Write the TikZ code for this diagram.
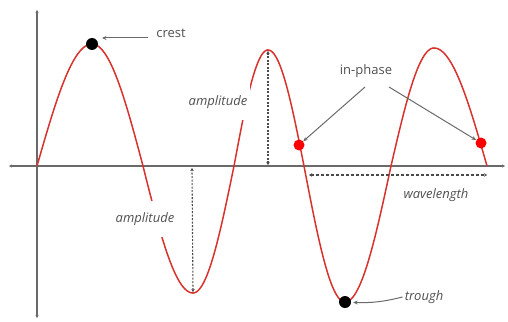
\documentclass[tikz,border=0pt]{standalone}
\usepackage{fontspec}
\setmainfont{Open Sans}
\usetikzlibrary{arrows.meta}
\definecolor{axisgray}{HTML}{6A6A6A}
\definecolor{dotgray}{HTML}{4A4A4A}
\definecolor{txtgray}{HTML}{505050}
\definecolor{wavered}{HTML}{D8322C}
\tikzset{
  axisline/.style={draw=axisgray, line width=1.1pt, {Stealth[length=3pt,width=3pt]}-{Stealth[length=3pt,width=3pt]}},
  wave/.style={draw=wavered, line width=1.5pt},
  dotline/.style={draw=dotgray, line width=1.1pt, dash pattern=on 2pt off 1.5pt, {Stealth[length=3pt,width=3.5pt]}-{Stealth[length=3pt,width=3.5pt]}},
  pointer/.style={draw=axisgray, line width=1pt, -{Stealth[length=4.5pt,width=4pt]}},
  lbl/.style={text=txtgray, font=\fontsize{13}{15}\selectfont, inner sep=1pt},
  itlbl/.style={lbl, font=\fontsize{13}{15}\selectfont\itshape},
  boxlbl/.style={itlbl, fill=white, inner xsep=3pt, inner ysep=12pt},
  blackdot/.style={circle, fill=black, inner sep=0pt, minimum size=12pt},
  reddot/.style={circle, fill=red, inner sep=0pt, minimum size=11pt},
}
\begin{document}
\begin{tikzpicture}[x=1pt,y=-1pt]
\useasboundingbox (0,0) rectangle (508,321);
% axes
\coordinate (yt) at (37,10);
\coordinate (yb) at (37,318);
\coordinate (xl) at (9,166);
\coordinate (xr) at (505,166);
\draw[axisline] (yb) -- (yt);
\draw[axisline] (xl) -- (xr);
% wave (quarter-sine pieces)
\draw[wave]
  plot[domain=0:90,samples=30] ({37+(92-37)*\x/90},{166-(166-44)*sin(\x)})
  -- plot[domain=0:90,samples=30] ({92+(143-92)*\x/90},{166-(166-44)*cos(\x)})
  -- plot[domain=0:90,samples=30] ({143+(193-143)*\x/90},{166+(293-166)*sin(\x)})
  -- plot[domain=0:90,samples=30] ({193+(234-193)*\x/90},{166+(293-166)*cos(\x)})
  -- plot[domain=0:90,samples=30] ({234+(268-234)*\x/90},{166-(166-50)*sin(\x)})
  -- plot[domain=0:90,samples=30] ({268+(304-268)*\x/90},{166-(166-50)*cos(\x)})
  -- plot[domain=0:90,samples=30] ({304+(345-304)*\x/90},{166+(302-166)*sin(\x)})
  -- plot[domain=0:90,samples=30] ({345+(391-345)*\x/90},{166+(302-166)*cos(\x)})
  -- plot[domain=0:90,samples=30] ({391+(434-391)*\x/90},{166-(166-48)*sin(\x)})
  -- plot[domain=0:90,samples=30] ({434+(487-434)*\x/90},{166-(166-48)*cos(\x)});
% amplitude markers
\coordinate (pk2) at (268,51);
\coordinate (pk2b) at (268,165);
\coordinate (tr1t) at (192,168);
\coordinate (tr1b) at (193,292);
\draw[dotline] (pk2b) -- (pk2);
\draw[dotline] (tr1b) -- (tr1t);
% wavelength
\coordinate (wl1) at (309,175);
\coordinate (wl2) at (487,175);
\draw[dotline, dash pattern=on 3pt off 2pt] (wl1) -- (wl2);
% labels
\node[boxlbl] (amp1) at (218,102) {amplitude};
\node[boxlbl] (amp2) at (145,219) {amplitude};
\node[itlbl] (wl) at (436,195) {wavelength};
\node[lbl] (crestl) at (171,33) {crest};
\node[itlbl] (troughl) at (424,297) {trough};
\node[lbl] (inph) at (366,71) {in-phase};
% points
\node[blackdot] (crest) at (92,44) {};
\node[blackdot] (trough) at (345,302) {};
\node[reddot] (ph1) at (299,145) {};
\node[reddot] (ph2) at (481,143) {};
% pointers
\coordinate (c0) at (148,38);
\coordinate (c1) at (102,38);
\draw[pointer] (c0) -- (c1);
\draw[pointer, shorten >=2pt] (troughl.west) ++(-1,0) coordinate (t0) to[bend left=8] (trough);
\coordinate (ip1) at (365,87);
\coordinate (ip2) at (389,87);
\draw[pointer] (ip1) -- (ph1);
\draw[pointer] (ip2) -- (ph2);
\end{tikzpicture}
\end{document}
